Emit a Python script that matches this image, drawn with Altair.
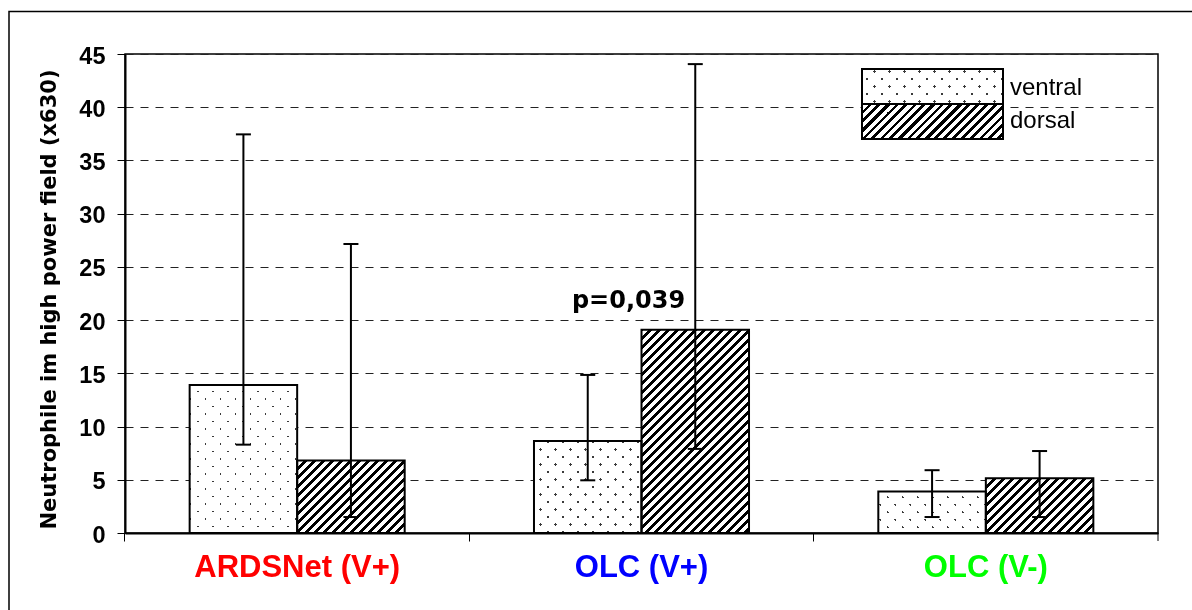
import math
import altair as alt
import pandas as pd

# ---------------- data ----------------
groups = ["ARDSNet (V+)", "OLC (V+)", "OLC (V-)"]
group_colors = ["#ff0000", "#0000ff", "#00ff00"]
sides = ["ventral", "dorsal"]

ventral_mean = [13.9, 8.65, 3.9]
ventral_lo = [8.3, 4.95, 1.5]
ventral_hi = [37.45, 14.85, 5.9]

dorsal_mean = [6.8, 19.1, 5.15]
dorsal_lo = [1.5, 7.9, 1.5]
dorsal_hi = [27.15, 44.05, 7.7]

y_ticks = [0, 5, 10, 15, 20, 25, 30, 35, 40, 45]
y_title = "Neutrophile im high power field (x630)"
p_text = ["p=0,039"]
p_group = ["OLC (V+)"]
p_y = [21.1]

# ---------------- layout ----------------
W, H = 1033, 479
Y_MAX = 45
PI = 0.3755                      # inner band padding
STEP = W / 3.0
BW = STEP * (1 - PI) / 2         # width of one bar in px

rows = []
for i, g in enumerate(groups):
    rows.append(dict(group=g, side="ventral", mean=ventral_mean[i], lo=ventral_lo[i], hi=ventral_hi[i]))
    rows.append(dict(group=g, side="dorsal", mean=dorsal_mean[i], lo=dorsal_lo[i], hi=dorsal_hi[i]))
df = pd.DataFrame(rows)
df["key"] = df["group"] + "|" + df["side"]


# ---------------- pattern fills built from gradients ----------------
def band_stops(span, period, width, ink, paper="#ffffff", phase=0.0):
    intervals = []
    m = math.floor((-phase - width) / period)
    while True:
        c = phase + m * period
        a, b = c - width / 2, c + width / 2
        if a > span:
            break
        a2, b2 = max(a, 0.0), min(b, span)
        if b2 > a2:
            intervals.append((round(a2 / span, 6), round(b2 / span, 6)))
        m += 1
    stops = [{"offset": 0, "color": paper}]
    for a, b in intervals:
        stops += [{"offset": a, "color": paper}, {"offset": a, "color": ink},
                  {"offset": b, "color": ink}, {"offset": b, "color": paper}]
    stops.append({"offset": 1, "color": paper})
    return stops


def diag_fill(w, h, period, width, ink, direction, phase=0.0):
    span = w + h
    k = span / (w * w + h * h)
    if direction == "/":
        x1, y1, x2, y2 = 0, 0, k * w, k * h
    else:
        x1, y1, x2, y2 = 0, 1, k * w, 1 - k * h
    return {"gradient": "linear", "x1": round(x1, 6), "y1": round(y1, 6),
            "x2": round(x2, 6), "y2": round(y2, 6),
            "stops": band_stops(span, period, width, ink, phase=phase)}


DOT_INK = "#3a3a3a"
DOT_P, DOT_W = 15, 2.6
HATCH_P, HATCH_W = 9, 4

# ---------------- shared encodings ----------------
x_axis = alt.Axis(labels=False, title=None, ticks=True, tickSize=8, tickColor="black",
                  tickWidth=1, bandPosition=-0.3007, domainColor="black", domainWidth=2,
                  grid=False)
x_scale = alt.Scale(domain=groups, paddingInner=PI, paddingOuter=PI / 2)
y_axis = alt.Axis(values=y_ticks, title=y_title, titleFont="DejaVu Sans", titleFontSize=21,
                  titleFontWeight="bold", titleColor="black", titleX=-70, titleY=245,
                  titleBaseline="alphabetic", titleAlign="center",
                  labelFont="Liberation Sans", labelFontSize=23.5, labelFontWeight="bold",
                  labelColor="black", labelPadding=12, labelOffset=2,
                  tickSize=8, tickColor="black", tickWidth=1,
                  domainColor="black", domainWidth=2,
                  grid=True, gridDash=[8, 7], gridColor="#222222", gridWidth=1)
y_scale = alt.Scale(domain=[0, Y_MAX], nice=False)


def X():
    return alt.X("group:N", scale=x_scale, axis=x_axis, sort=groups)


def XO():
    return alt.XOffset("side:N", scale=alt.Scale(domain=sides, paddingInner=0, paddingOuter=0), sort=sides)


def Y(field):
    return alt.Y(f"{field}:Q", scale=y_scale, axis=y_axis, title=y_title)


base = alt.Chart(df)
layers = []

# pattern bars
for _, r in df.iterrows():
    h = r["mean"] * H / Y_MAX
    flt = f"datum.key == '{r['key']}'"
    enc = dict(x=X(), xOffset=XO(), y=Y("mean"))
    if r["side"] == "ventral":
        layers.append(base.transform_filter(flt).mark_bar(
            fill=diag_fill(BW, h, DOT_P, DOT_W, DOT_INK, "/"), strokeWidth=0).encode(**enc))
        layers.append(base.transform_filter(flt).mark_bar(
            fill=diag_fill(BW, h, DOT_P, DOT_W, DOT_INK, "\\"), strokeWidth=0, blend="lighten").encode(**enc))
    else:
        layers.append(base.transform_filter(flt).mark_bar(
            fill=diag_fill(BW, h, HATCH_P, HATCH_W, "#000000", "/"), strokeWidth=0).encode(**enc))

# bar outlines
layers.append(base.mark_bar(fillOpacity=0, stroke="black", strokeWidth=2).encode(
    x=X(), xOffset=XO(), y=Y("mean")))

# error bars
layers.append(base.mark_rule(color="black", strokeWidth=2).encode(
    x=X(), xOffset=XO(), y=Y("lo"), y2="hi:Q"))
for fld in ["lo", "hi"]:
    layers.append(base.mark_point(shape="stroke", size=225, filled=False, color="black",
                                  strokeWidth=2, opacity=1).encode(
        x=X(), xOffset=XO(), y=Y(fld)))

# p-value annotation
pdf = pd.DataFrame({"group": p_group, "y": p_y, "text": p_text})
layers.append(alt.Chart(pdf).mark_text(font="DejaVu Sans", fontSize=24, fontWeight="bold",
                                       color="black", align="center", baseline="alphabetic",
                                       dx=-13).encode(x=X(), y=Y("y"), text="text:N"))

# coloured category labels
gdf = pd.DataFrame({"group": groups})
layers.append(alt.Chart(gdf).mark_text(font="Liberation Sans", fontSize=31, fontWeight="bold",
                                       align="center", baseline="alphabetic").encode(
    x=X(), y=alt.value(H + 44), text="group:N",
    color=alt.Color("group:N", scale=alt.Scale(domain=groups, range=group_colors), legend=None)))

# last x-axis tick at the right end
one = pd.DataFrame({"a": [0]})
layers.append(alt.Chart(one).mark_rule(color="black", strokeWidth=1).encode(
    x=alt.value(W), y=alt.value(H), y2=alt.value(H + 8)))

# legend (pattern boxes + labels)
LX, LX2 = 737, 878
LY = [15, 50, 85]
lw, lh = LX2 - LX, LY[1] - LY[0]
layers.append(alt.Chart(one).mark_rect(fill=diag_fill(lw, lh, DOT_P, DOT_W, DOT_INK, "/"), strokeWidth=0).encode(
    x=alt.value(LX), x2=alt.value(LX2), y=alt.value(LY[0]), y2=alt.value(LY[1])))
layers.append(alt.Chart(one).mark_rect(fill=diag_fill(lw, lh, DOT_P, DOT_W, DOT_INK, "\\"), strokeWidth=0,
                                       blend="lighten").encode(
    x=alt.value(LX), x2=alt.value(LX2), y=alt.value(LY[0]), y2=alt.value(LY[1])))
layers.append(alt.Chart(one).mark_rect(fill=diag_fill(lw, lh, HATCH_P, HATCH_W, "#000000", "/"), strokeWidth=0).encode(
    x=alt.value(LX), x2=alt.value(LX2), y=alt.value(LY[1]), y2=alt.value(LY[2])))
for i in range(2):
    layers.append(alt.Chart(one).mark_rect(fillOpacity=0, stroke="black", strokeWidth=2).encode(
        x=alt.value(LX), x2=alt.value(LX2), y=alt.value(LY[i]), y2=alt.value(LY[i + 1])))
    layers.append(alt.Chart(one).mark_text(font="Liberation Sans", fontSize=24, color="black",
                                           align="left", baseline="alphabetic").encode(
        x=alt.value(885), y=alt.value(41 + 33 * i), text=alt.value(sides[i])))

# outer frame of the figure
layers.append(alt.Chart(one).mark_rect(fillOpacity=0, stroke="black", strokeWidth=1.5).encode(
    x=alt.value(-116), x2=alt.value(W + 60), y=alt.value(-42.5), y2=alt.value(H + 120)))

chart = alt.layer(*layers).properties(
    width=W, height=H,
    padding={"left": 125, "top": 54, "right": 34, "bottom": 77},
    autosize=alt.AutoSizeParams(type="none"),
    background="white",
).configure_view(stroke="black", strokeWidth=1.5)

chart.save("out.html", embed_options={"renderer": "svg", "actions": False})
